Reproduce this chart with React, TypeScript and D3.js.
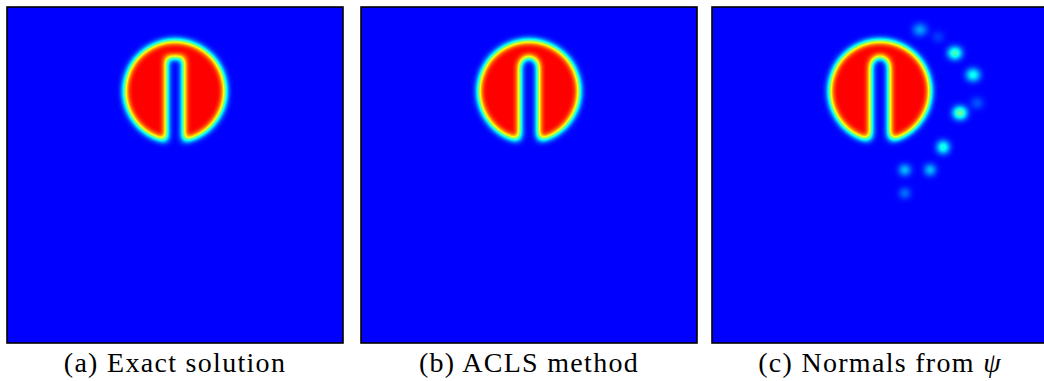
import * as d3 from 'd3'

// figure layout
const W = 1044
const H = 381
const panelLeft = [7, 361, 712]
const panelTop = 7
const panelSize = 336

// captions
const captionText = ['(a) Exact solution', '(b) ACLS method', '(c) Normals from ']
const captionMath = ['', '', 'ψ']

// slotted disk (unit square coordinates)
const diskCenter = [0.5, 0.75]
const diskRadius = 0.15
const slotWidth = [0.05, 0.054, 0.054]
const slotTop = [0.85, 0.851, 0.852]
const slotRounded = [false, true, true]
const filletRadius = [0, 0.016, 0.018]

// spurious blobs in panel (c): position, half axes, peak level
const blobX = [0.619, 0.673, 0.723, 0.777, 0.789, 0.738, 0.688, 0.574, 0.649, 0.574]
const blobY = [0.932, 0.911, 0.863, 0.798, 0.714, 0.685, 0.583, 0.515, 0.515, 0.446]
const blobRx = [0.019, 0.014, 0.019, 0.019, 0.016, 0.019, 0.016, 0.014, 0.013, 0.012]
const blobRy = [0.015, 0.012, 0.016, 0.016, 0.014, 0.017, 0.017, 0.012, 0.013, 0.011]
const blobLevel = [0.2, 0.1, 0.42, 0.34, 0.12, 0.45, 0.38, 0.33, 0.33, 0.22]

// restricted jet colormap (blue -> cyan -> yellow -> red)
const jetR = [0, 0, 1, 1]
const jetG = [0, 1, 1, 0]
const jetB = [1, 1, 0, 0]

const x = d3.scaleLinear().domain([0, 1]).range([0, panelSize])
const y = d3.scaleLinear().domain([0, 1]).range([panelSize, 0])

function diskPath() {
  const p = d3.path()
  const r = x(diskRadius) - x(0)
  p.arc(x(diskCenter[0]), y(diskCenter[1]), r, 0, 2 * Math.PI)
  p.closePath()
  return p.toString()
}

function slotPath(i: number) {
  const p = d3.path()
  const xL = x(diskCenter[0] - slotWidth[i] / 2)
  const xR = x(diskCenter[0] + slotWidth[i] / 2)
  const hw = (xR - xL) / 2
  const bottom = y(diskCenter[1] - diskRadius) + 12
  const top = y(slotTop[i])
  p.moveTo(xL, bottom)
  if (slotRounded[i]) {
    p.lineTo(xL, top + hw)
    p.arc((xL + xR) / 2, top + hw, hw, Math.PI, 2 * Math.PI)
  } else {
    p.lineTo(xL, top)
    p.lineTo(xR, top)
  }
  p.lineTo(xR, bottom)
  p.closePath()
  return p.toString()
}

function filletPaths(i: number) {
  if (!filletRadius[i]) return []
  const hw = slotWidth[i] / 2
  const xL = x(diskCenter[0] - hw)
  const xR = x(diskCenter[0] + hw)
  const yc = y(diskCenter[1] - Math.sqrt(diskRadius * diskRadius - hw * hw))
  const rf = x(filletRadius[i]) - x(0)
  const left = d3.path()
  left.moveTo(xL, yc - rf)
  left.lineTo(xL, yc + rf)
  left.lineTo(xL - rf, yc + rf)
  left.lineTo(xL - rf, yc)
  left.arc(xL - rf, yc - rf, rf, Math.PI / 2, 0, true)
  left.closePath()
  const right = d3.path()
  right.moveTo(xR, yc - rf)
  right.lineTo(xR, yc + rf)
  right.lineTo(xR + rf, yc + rf)
  right.lineTo(xR + rf, yc)
  right.arc(xR + rf, yc - rf, rf, Math.PI / 2, Math.PI, false)
  right.closePath()
  return [left.toString(), right.toString()]
}

function gray(v: number) {
  const c = Math.round(Math.min(1, v) * 255)
  return `rgb(${c},${c},${c})`
}

export default function App() {
  return (
    <svg width={W} height={H} style={{ position: 'absolute', left: 0, top: 0, background: 'white' }}>
      <defs>
        <filter id="jet" x="-10%" y="-10%" width="120%" height="120%" colorInterpolationFilters="sRGB">
          <feGaussianBlur stdDeviation={3.8} />
          <feComponentTransfer>
            <feFuncR type="table" tableValues={jetR.join(' ')} />
            <feFuncG type="table" tableValues={jetG.join(' ')} />
            <feFuncB type="table" tableValues={jetB.join(' ')} />
          </feComponentTransfer>
        </filter>
        {panelLeft.map((_, i) => (
          <clipPath key={i} id={`clip${i}`}>
            <rect width={panelSize} height={panelSize} />
          </clipPath>
        ))}
      </defs>
      {panelLeft.map((x0, i) => (
        <g key={i} transform={`translate(${x0},${panelTop})`}>
          <g clipPath={`url(#clip${i})`}>
            <g filter="url(#jet)">
              <rect x={-30} y={-30} width={panelSize + 60} height={panelSize + 60} fill="black" />
              <path d={diskPath()} fill="white" />
              <path d={slotPath(i)} fill="black" />
              {filletPaths(i).map((d, k) => (
                <path key={k} d={d} fill="black" />
              ))}
              {i === 2 &&
                blobX.map((bx, k) => (
                  <ellipse
                    key={k}
                    cx={x(bx)}
                    cy={y(blobY[k])}
                    rx={x(blobRx[k]) - x(0)}
                    ry={x(blobRy[k]) - x(0)}
                    fill={gray(blobLevel[k] / 0.7)}
                  />
                ))}
            </g>
          </g>
          <rect width={panelSize} height={panelSize} fill="none" stroke="black" strokeWidth={1.6} />
          <text
            x={panelSize / 2}
            y={365}
            textAnchor="middle"
            fontFamily="'Liberation Serif', serif"
            fontSize={28}
            letterSpacing={1.3}
            fill="black"
          >
            {captionText[i]}
            {captionMath[i] && <tspan fontStyle="italic">{captionMath[i]}</tspan>}
          </text>
        </g>
      ))}
    </svg>
  )
}
